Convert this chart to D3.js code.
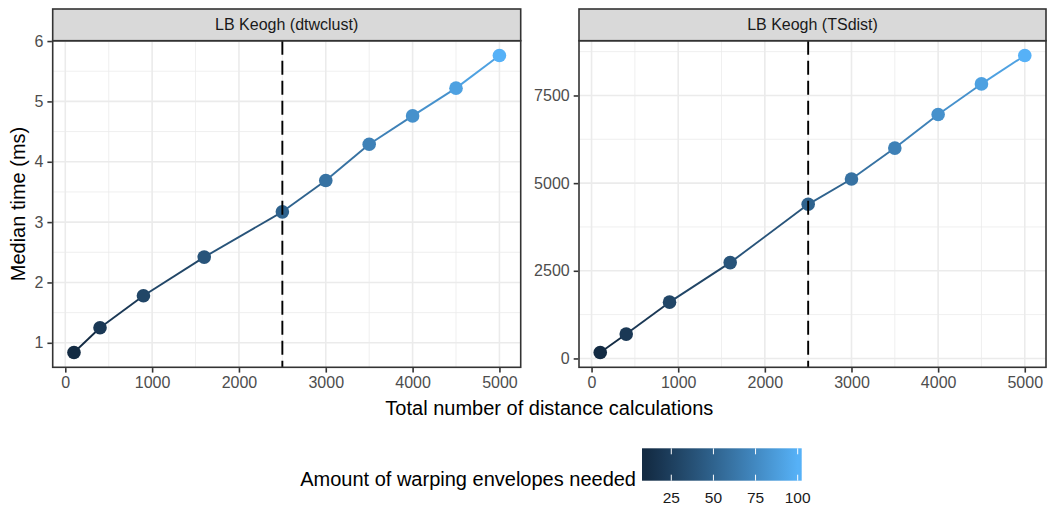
<!DOCTYPE html>
<html>
<head>
<meta charset="utf-8">
<script src="https://cdn.jsdelivr.net/npm/d3@7"></script>
<style>
    body { margin: 0; background: #fff; }
    text { font-family: "Liberation Sans", Arial, sans-serif; }
</style>
</head>
<body>
<div id="app"></div>
<script>
// values
const calcs = [100, 400, 900, 1600, 2500, 3000, 3500, 4000, 4500, 5000];
const envelopes = [10, 20, 30, 40, 50, 60, 70, 80, 90, 100];
const dtwclustTime = [0.84, 1.25, 1.78, 2.42, 3.17, 3.69, 4.29, 4.76, 5.22, 5.76];
const tsdistTime = [171, 695, 1606, 2733, 4396, 5117, 6000, 6959, 7830, 8639];
const panelTitles = ["LB Keogh (dtwclust)", "LB Keogh (TSdist)"];
const xTicks = [0, 1000, 2000, 3000, 4000, 5000];
const yTicksLeft = [1, 2, 3, 4, 5, 6];
const yTicksRight = [0, 2500, 5000, 7500];
const legendTicks = [25, 50, 75, 100];
const cutoff = 2500;

const W = 1047, H = 506;
const panelTop = 40.7, panelBottom = 367.3, stripTop = 9;

const svg = d3.select("#app")
    .append("svg")
    .attr("width", W)
    .attr("height", H);

const color = d3.scaleLinear()
    .domain(d3.extent(envelopes))
    .range(["#132B43", "#56B1F7"])
    .interpolate(d3.interpolateLab);

// ggplot style 5% expansion
const expand = ext => {
    const pad = (ext[1] - ext[0]) * 0.05;
    return [ext[0] - pad, ext[1] + pad];
};

const minorOf = (ticks, domain) => {
    const step = ticks[1] - ticks[0];
    const out = [ticks[0] - step / 2];
    ticks.forEach(t => out.push(t + step / 2));
    return out.filter(v => v >= domain[0] && v <= domain[1]);
};

const panels = [
    { title: panelTitles[0], times: dtwclustTime, yTicks: yTicksLeft, x0: 52.7, x1: 520.7 },
    { title: panelTitles[1], times: tsdistTime, yTicks: yTicksRight, x0: 579, x1: 1046 }
];

panels.forEach(p => {
    const xDomain = expand(d3.extent(calcs));
    const yDomain = expand(d3.extent(p.times));
    const x = d3.scaleLinear().domain(xDomain).range([p.x0, p.x1]);
    const y = d3.scaleLinear().domain(yDomain).range([panelBottom, panelTop]);

    const pts = calcs.map((c, i) => ({ calc: c, time: p.times[i], env: envelopes[i] }));

    const g = svg.append("g");

    // background
    g.append("rect")
        .attr("x", p.x0).attr("y", panelTop)
        .attr("width", p.x1 - p.x0).attr("height", panelBottom - panelTop)
        .attr("fill", "#fff");

    // minor grid
    minorOf(xTicks, xDomain).forEach(v => {
        g.append("line")
            .attr("x1", x(v)).attr("x2", x(v)).attr("y1", panelTop).attr("y2", panelBottom)
            .attr("stroke", "#EBEBEB").attr("stroke-width", 0.8);
    });
    minorOf(p.yTicks, yDomain).forEach(v => {
        g.append("line")
            .attr("x1", p.x0).attr("x2", p.x1).attr("y1", y(v)).attr("y2", y(v))
            .attr("stroke", "#EBEBEB").attr("stroke-width", 0.8);
    });

    // major grid
    xTicks.forEach(v => {
        g.append("line")
            .attr("x1", x(v)).attr("x2", x(v)).attr("y1", panelTop).attr("y2", panelBottom)
            .attr("stroke", "#EBEBEB").attr("stroke-width", 1.6);
    });
    p.yTicks.forEach(v => {
        g.append("line")
            .attr("x1", p.x0).attr("x2", p.x1).attr("y1", y(v)).attr("y2", y(v))
            .attr("stroke", "#EBEBEB").attr("stroke-width", 1.6);
    });

    // line segments, coloured by starting point
    d3.pairs(pts).forEach(([a, b]) => {
        g.append("line")
            .attr("x1", x(a.calc)).attr("y1", y(a.time))
            .attr("x2", x(b.calc)).attr("y2", y(b.time))
            .attr("stroke", color(a.env))
            .attr("stroke-width", 1.9);
    });

    g.selectAll("circle")
        .data(pts)
        .enter()
        .append("circle")
        .attr("cx", d => x(d.calc))
        .attr("cy", d => y(d.time))
        .attr("r", 6.8)
        .attr("fill", d => color(d.env));

    // dashed cutoff
    g.append("line")
        .attr("x1", x(cutoff)).attr("x2", x(cutoff))
        .attr("y1", panelTop).attr("y2", panelBottom)
        .attr("stroke", "#000")
        .attr("stroke-width", 1.9)
        .attr("stroke-dasharray", "14,6");

    // panel border
    g.append("rect")
        .attr("x", p.x0).attr("y", panelTop)
        .attr("width", p.x1 - p.x0).attr("height", panelBottom - panelTop)
        .attr("fill", "none")
        .attr("stroke", "#333333").attr("stroke-width", 1.6);

    // strip
    g.append("rect")
        .attr("x", p.x0).attr("y", stripTop)
        .attr("width", p.x1 - p.x0).attr("height", panelTop - stripTop)
        .attr("fill", "#D9D9D9")
        .attr("stroke", "#333333").attr("stroke-width", 1.6);
    g.append("text")
        .attr("x", (p.x0 + p.x1) / 2)
        .attr("y", (stripTop + panelTop) / 2)
        .attr("dy", "0.35em")
        .attr("text-anchor", "middle")
        .attr("font-size", "16px")
        .attr("fill", "#1A1A1A")
        .text(p.title);

    // axes
    const xAxis = g.append("g")
        .attr("transform", `translate(0,${panelBottom + 0.8})`)
        .call(d3.axisBottom(x).tickValues(xTicks).tickFormat(d3.format("d")).tickSize(4.5).tickPadding(4));
    const yAxis = g.append("g")
        .attr("transform", `translate(${p.x0 - 0.8},0)`)
        .call(d3.axisLeft(y).tickValues(p.yTicks).tickFormat(d3.format("d")).tickSize(4.5).tickPadding(4));

    [xAxis, yAxis].forEach(ax => {
        ax.attr("font-size", null);
        ax.select(".domain").remove();
        ax.selectAll(".tick line").attr("stroke", "#333333").attr("stroke-width", 1.6);
        ax.selectAll(".tick text")
            .attr("fill", "#4D4D4D")
            .style("font-size", "16px")
            .style("font-family", "Liberation Sans, Arial, sans-serif");
    });
});

// axis titles
svg.append("text")
    .attr("x", (52.7 + 1046) / 2)
    .attr("y", 415)
    .attr("text-anchor", "middle")
    .attr("font-size", "20px")
    .attr("fill", "#000")
    .text("Total number of distance calculations");

svg.append("text")
    .attr("transform", `translate(24.5,${(panelTop + panelBottom) / 2}) rotate(-90)`)
    .attr("text-anchor", "middle")
    .attr("font-size", "20px")
    .attr("fill", "#000")
    .text("Median time (ms)");

// colour bar legend
const barX0 = 642, barX1 = 801.7, barY0 = 448.3, barY1 = 480.7;
const lx = d3.scaleLinear().domain(d3.extent(envelopes)).range([barX0 + 4, barX1 - 4]);

const grad = svg.append("defs").append("linearGradient")
    .attr("id", "envGrad")
    .attr("gradientUnits", "userSpaceOnUse")
    .attr("x1", lx(10)).attr("x2", lx(100))
    .attr("y1", 0).attr("y2", 0);
envelopes.forEach(v => {
    grad.append("stop")
        .attr("offset", (lx(v) - lx(10)) / (lx(100) - lx(10)))
        .attr("stop-color", color(v));
});

svg.append("rect")
    .attr("x", barX0).attr("y", barY0)
    .attr("width", barX1 - barX0).attr("height", barY1 - barY0)
    .attr("fill", "url(#envGrad)");

legendTicks.forEach(v => {
    svg.append("line")
        .attr("x1", lx(v)).attr("x2", lx(v))
        .attr("y1", barY0).attr("y2", barY0 + 6)
        .attr("stroke", "#fff").attr("stroke-width", 1);
    svg.append("line")
        .attr("x1", lx(v)).attr("x2", lx(v))
        .attr("y1", barY1 - 6).attr("y2", barY1)
        .attr("stroke", "#fff").attr("stroke-width", 1);
    svg.append("text")
        .attr("x", lx(v))
        .attr("y", 502.5)
        .attr("text-anchor", "middle")
        .attr("font-size", "15.5px")
        .attr("fill", "#1A1A1A")
        .text(v);
});

svg.append("text")
    .attr("x", 636)
    .attr("y", 485.5)
    .attr("text-anchor", "end")
    .attr("font-size", "20px")
    .attr("fill", "#000")
    .text("Amount of warping envelopes needed");
</script>
</body>
</html>
